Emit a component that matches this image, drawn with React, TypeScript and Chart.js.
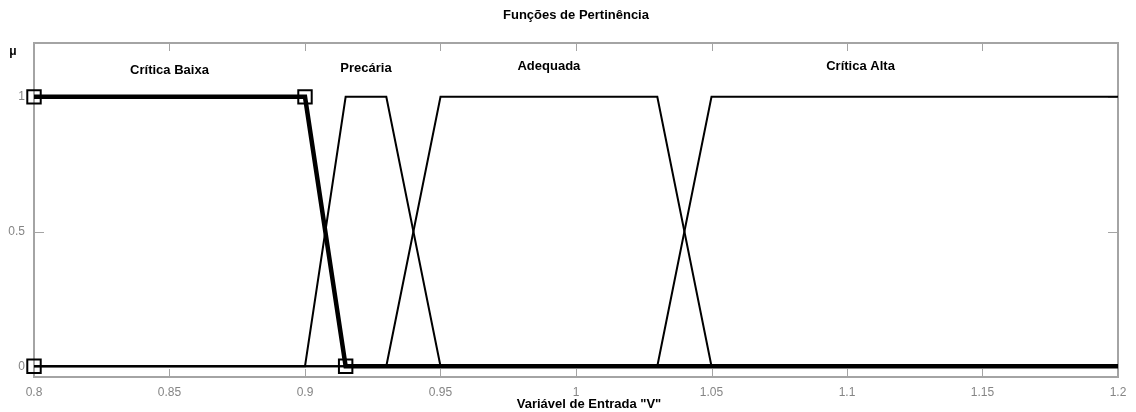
import React, { useEffect, useRef } from 'react';
import { Chart, registerables } from 'chart.js';

Chart.register(...registerables);

const chartTitle = 'Funções de Pertinência';
const xAxisTitle = 'Variável de Entrada "V"';
const yAxisTitle = 'μ';

const xTickValues = [0.8, 0.85, 0.9, 0.95, 1, 1.05, 1.1, 1.15, 1.2];
const xTickLabels = ['0.8', '0.85', '0.9', '0.95', '1', '1.05', '1.1', '1.15', '1.2'];
const yTickValues = [0, 0.5, 1];
const yTickLabels = ['0', '0.5', '1'];

const mfNames = ['Crítica Baixa', 'Precária', 'Adequada', 'Crítica Alta'];
const mfLabelX = [0.85, 0.9225, 0.99, 1.105];
const mfLabelY = [1.099, 1.107, 1.114, 1.114];

const criticaBaixaX = [0.8, 0.9, 0.915, 1.2];
const criticaBaixaY = [1, 1, 0, 0];
const precariaX = [0.8, 0.9, 0.915, 0.93, 0.95, 1.2];
const precariaY = [0, 0, 1, 1, 0, 0];
const adequadaX = [0.8, 0.93, 0.95, 1.03, 1.05, 1.2];
const adequadaY = [0, 0, 1, 1, 0, 0];
const criticaAltaX = [0.8, 1.03, 1.05, 1.2];
const criticaAltaY = [0, 0, 1, 1];
const vertexX = [0.8, 0.8, 0.9, 0.915];
const vertexY = [0, 1, 1, 0];

const toPoints = (xs: number[], ys: number[]) => xs.map((x, i) => ({ x, y: ys[i] }));

const FONT = '"Liberation Sans", Arial, sans-serif';

const decor = {
  id: 'decor',
  beforeDatasetsDraw(chart: any) {
    const { ctx, chartArea: a, scales } = chart;
    const x = scales.x;
    const y = scales.y;
    ctx.save();
    ctx.strokeStyle = '#a4a4a4';
    ctx.lineWidth = 2;
    ctx.strokeRect(a.left, a.top, a.right - a.left, a.bottom - a.top);
    ctx.lineWidth = 1;
    ctx.beginPath();
    xTickValues.forEach((v) => {
      const px = Math.round(x.getPixelForValue(v)) + 0.5;
      ctx.moveTo(px, a.bottom);
      ctx.lineTo(px, a.bottom - 8);
      ctx.moveTo(px, a.top);
      ctx.lineTo(px, a.top + 8);
    });
    yTickValues.forEach((v) => {
      const py = Math.round(y.getPixelForValue(v)) + 0.5;
      ctx.moveTo(a.left, py);
      ctx.lineTo(a.left + 10, py);
      ctx.moveTo(a.right, py);
      ctx.lineTo(a.right - 10, py);
    });
    ctx.stroke();
    ctx.restore();
  },
  afterDraw(chart: any) {
    const { ctx, chartArea: a, scales } = chart;
    const x = scales.x;
    const y = scales.y;
    ctx.save();
    ctx.fillStyle = '#000';
    ctx.textAlign = 'center';
    ctx.textBaseline = 'middle';
    ctx.font = `bold 13px ${FONT}`;
    ctx.fillText(chartTitle, (a.left + a.right) / 2, 15);
    mfNames.forEach((n, i) => {
      ctx.fillText(n, x.getPixelForValue(mfLabelX[i]), y.getPixelForValue(mfLabelY[i]));
    });
    ctx.fillText(xAxisTitle, (a.left + a.right) / 2 + 13, 404);
    ctx.font = `bold 12px ${FONT}`;
    ctx.fillText(yAxisTitle, 13, 52);
    ctx.restore();
  },
};

export default function App() {
  const ref = useRef<HTMLCanvasElement | null>(null);
  useEffect(() => {
    if (!ref.current) return;
    const thin = { borderColor: '#000', borderWidth: 2, pointRadius: 0, showLine: true, fill: false, order: 2, clip: false as any };
    const chart = new Chart(ref.current, {
      type: 'scatter',
      data: {
        datasets: [
          { ...thin, label: 'Precária', data: toPoints(precariaX, precariaY) },
          { ...thin, label: 'Adequada', data: toPoints(adequadaX, adequadaY) },
          { ...thin, label: 'Crítica Alta', data: toPoints(criticaAltaX, criticaAltaY) },
          {
            label: 'Crítica Baixa', data: toPoints(criticaBaixaX, criticaBaixaY),
            borderColor: '#000', borderWidth: 4.5, pointRadius: 0, showLine: true, fill: false, order: 1, clip: false as any,
          },
          {
            label: 'vértices', data: toPoints(vertexX, vertexY),
            showLine: false, pointStyle: 'rect', pointRadius: 9.5, pointBorderWidth: 2,
            pointBorderColor: '#000', pointBackgroundColor: 'rgba(0,0,0,0)', order: 0, clip: false as any,
          },
        ],
      },
      options: {
        animation: false,
        responsive: false,
        maintainAspectRatio: false,
        layout: { padding: { top: 43, right: 18, left: 0, bottom: 0 } },
        plugins: { legend: { display: false }, tooltip: { enabled: false }, title: { display: false } },
        scales: {
          x: {
            type: 'linear',
            min: 0.8,
            max: 1.2,
            grid: { display: false, drawTicks: false },
            border: { display: false },
            afterBuildTicks: (s: any) => { s.ticks = xTickValues.map((v) => ({ value: v })); },
            afterFit: (s: any) => { s.height = 35; },
            ticks: {
              padding: 8,
              autoSkip: false,
              maxRotation: 0,
              color: '#858585',
              font: { family: FONT, size: 12 },
              callback: (v: any) => xTickLabels[xTickValues.findIndex((t) => Math.abs(t - v) < 1e-9)] ?? '',
            },
          },
          y: {
            type: 'linear',
            min: -0.04,
            max: 1.2,
            grid: { display: false, drawTicks: false },
            border: { display: false },
            afterBuildTicks: (s: any) => { s.ticks = yTickValues.map((v) => ({ value: v })); },
            afterFit: (s: any) => { s.width = 34; },
            ticks: {
              padding: 9,
              color: '#858585',
              font: { family: FONT, size: 12 },
              callback: (v: any) => yTickLabels[yTickValues.findIndex((t) => Math.abs(t - v) < 1e-9)] ?? '',
            },
          },
        },
      },
      plugins: [decor],
    });
    return () => chart.destroy();
  }, []);
  return (
    <div style={{ position: 'fixed', left: 0, top: 0, width: 1136, height: 412, background: '#fff' }}>
      <canvas ref={ref} width={1136} height={412} style={{ width: 1136, height: 412, display: 'block' }} />
    </div>
  );
}
